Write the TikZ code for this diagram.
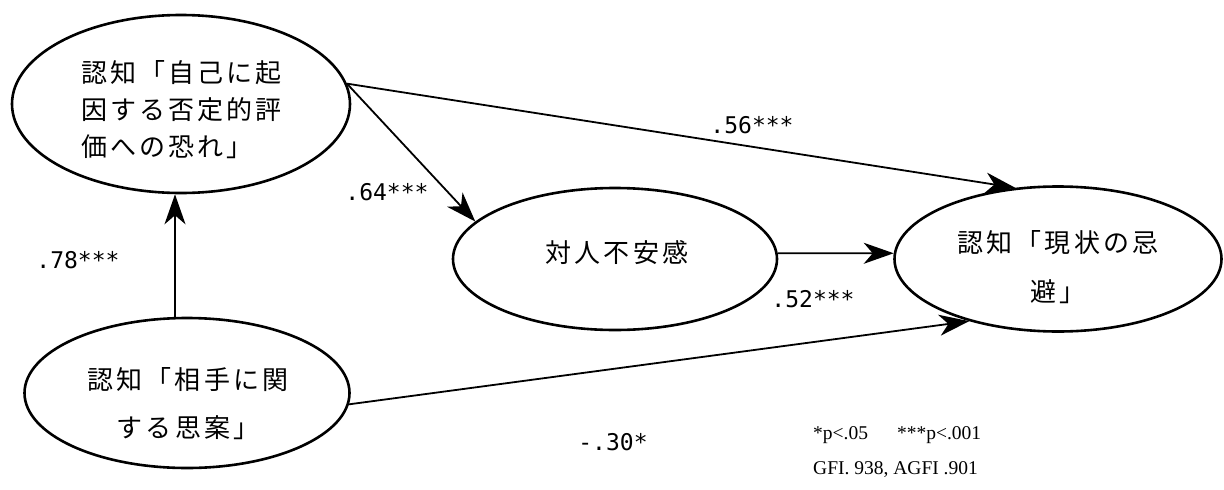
\documentclass[tikz,border=0pt]{standalone}
\usepackage{fontspec}
\usetikzlibrary{shapes.geometric,arrows.meta}
\newfontfamily\jp[LetterSpace=12]{Noto Sans CJK JP}
\newfontfamily\nummono{DejaVu Sans Mono}
\newfontfamily\tms{Liberation Serif}
\begin{document}
\begin{tikzpicture}[x=1pt,y=-1pt,
  latent/.style={ellipse, draw, line width=2.6pt, inner sep=0pt},
  jtext/.style={font=\jp\fontsize{26}{37}\selectfont, inner sep=0pt},
  coef/.style={font=\nummono\fontsize{23}{27}\selectfont, inner sep=0pt},
  causal/.style={line width=1.8pt, -{Stealth[length=30pt,width=21pt,inset=9pt]}},
  note/.style={font=\tms\fontsize{19.5}{23}\selectfont, inner sep=0pt, anchor=west}]
\useasboundingbox (0,0) rectangle (1224,490);

% latent variables
\node[latent, minimum width=338pt, minimum height=178pt] (e1) at (181,104) {};
\node[jtext, align=left] (t1) at (181.5,110) {認知「自己に起\\因する否定的評\\価への恐れ」};

\node[latent, minimum width=324pt, minimum height=142pt] (e2) at (615,259) {};
\node[jtext] (t2) at (617,253) {対人不安感};

\node[latent, minimum width=327pt, minimum height=145pt] (e3) at (1058,259) {};
\node[jtext, align=center, font=\jp\fontsize{26}{49}\selectfont] (t3) at (1058,267.5) {認知「現状の忌\\避」};

\node[latent, minimum width=325pt, minimum height=150pt] (e4) at (187,393) {};
\node[jtext, align=center, font=\jp\fontsize{26}{48}\selectfont] (t4) at (188,404) {認知「相手に関\\する思案」};

% paths
\draw[causal] (e1.7) -- (e3.121);
\draw[causal] (e1.7) -- (e2.165);
\draw[causal] (e2.2) -- (e3.178);
\draw[causal] ([xshift=-12pt]e4.north) -- ([xshift=-6pt]e1.south);
\draw[causal] (e4.-4) -- (e3.215);

% coefficients
\node[coef] (c56) at (752,125) {.56***};
\node[coef] (c64) at (387,192) {.64***};
\node[coef] (c78) at (78,260) {.78***};
\node[coef] (c52) at (813,299) {.52***};
\node[coef] (c30) at (613,442) {-.30*};

% notes
\node[note] (n1) at (813,435) {*p<.05\hspace{29pt}***p<.001};
\node[note] (n2) at (813,470) {GFI. 938, AGFI .901};
\end{tikzpicture}
\end{document}
